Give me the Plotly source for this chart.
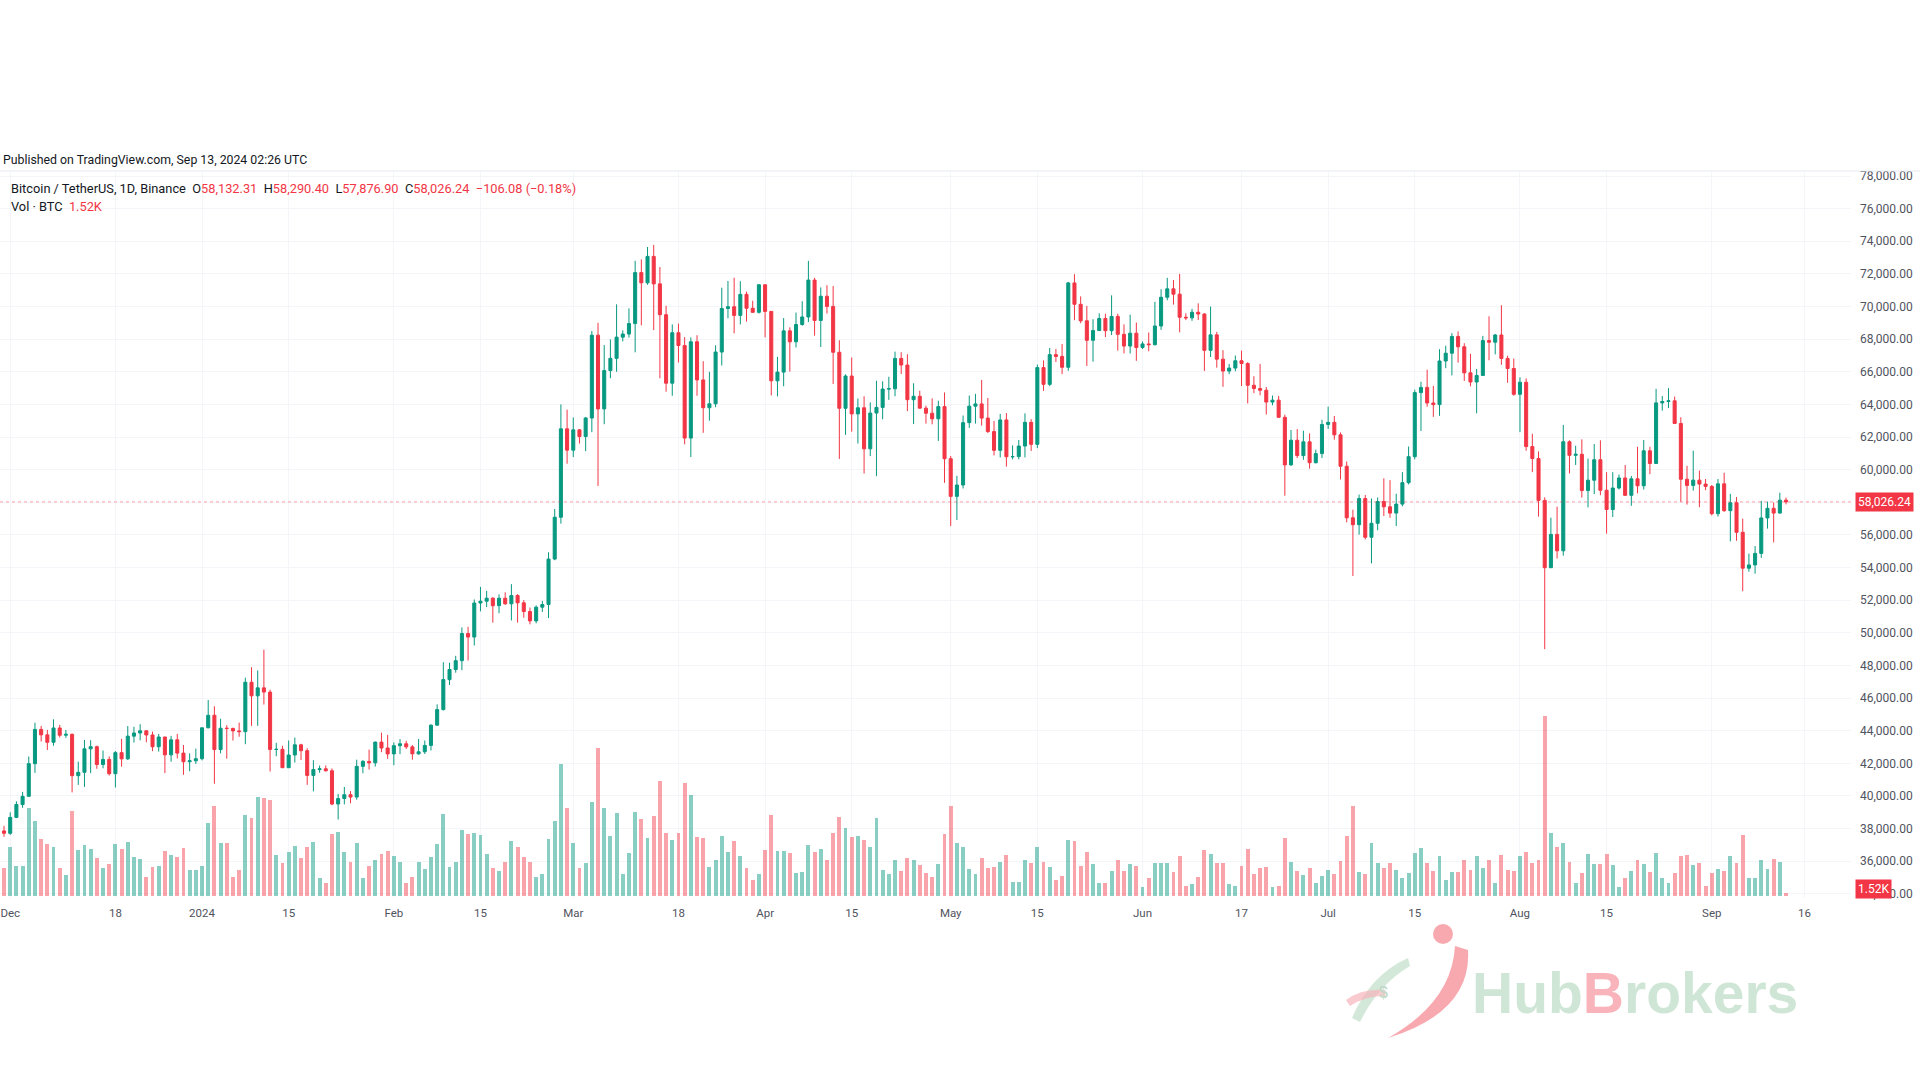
import plotly.graph_objects as go
import pandas as pd

# ---------------- data (BTCUSDT, Binance, 1D) ----------------
dates = pd.date_range("2023-11-30", "2024-09-13", freq="D")

opens = [
    37861,
    # Dec
    37712, 38688, 39476, 39978, 41980, 44080, 43746, 43292, 44166, 43725, 43779, 41243, 41450, 42890, 43023, 41929,
    42240, 41365, 42657, 42275, 43668, 43861, 43997, 43740, 43017, 43614, 42520, 43442, 42627, 42099, 42156,
    # Jan
    42283, 44179, 44946, 42845, 44151, 44140, 43989, 43943, 46970, 46139, 46627, 46368, 42853, 42860, 41733, 42511,
    43137, 42776, 41262, 41618, 41665, 41545, 39507, 39845, 40077, 39933, 41816, 42120, 42031, 43302, 42941,
    # Feb
    42580, 43082, 43200, 43011, 42582, 42708, 43099, 44339, 45293, 47132, 47751, 48293, 49958, 49742, 51826, 51939,
    52123, 51662, 52122, 51779, 52284, 51839, 51304, 50731, 51572, 51733, 54522, 57085, 62504,
    # Mar
    61198, 62440, 62029, 63168, 68245, 63724, 66074, 66823, 68124, 68313, 68955, 72078, 71452, 73072, 71388, 69499,
    65300, 68393, 67609, 61937, 67840, 65501, 63796, 64037, 67211, 69880, 69988, 69455, 70745, 69893, 69645,
    # Apr
    71333, 69702, 65446, 65980, 68508, 67837, 68896, 69361, 71620, 69146, 70631, 70006, 67195, 63765, 65739, 63419,
    63793, 61277, 63470, 63818, 64941, 64960, 66819, 66414, 64289, 64498, 63770, 63461, 63118, 63866,
    # May
    60672, 58364, 59060, 62882, 63892, 64031, 63161, 62334, 61187, 63049, 60792, 60800, 61448, 62901, 61552, 66256,
    65231, 67051, 66940, 66278, 71446, 70136, 69122, 67929, 68526, 69265, 68518, 69394, 68296, 67578, 68364,
    # Jun
    67491, 67706, 67660, 68804, 70567, 71082, 70757, 69342, 69305, 69648, 69540, 67314, 68263, 66773, 66043, 66228,
    66676, 66504, 65175, 64974, 64869, 64143, 64262, 63210, 60293, 61806, 60864, 61706, 60427, 60986,
    # Jul
    62772, 62900, 62135, 60209, 57050, 56628, 58231, 55857, 56714, 58050, 57725, 57339, 57889, 59204, 60797, 64724,
    65043, 64087, 63987, 66660, 67139, 68165, 67532, 65936, 65372, 65777, 67912, 67813, 68255, 66819, 66201,
    # Aug
    64619, 65357, 61415, 60681, 58116, 53991, 56034, 55027, 61710, 60880, 60945, 58719, 59354, 60609, 58737, 57560,
    58874, 59491, 58427, 59438, 59013, 61157, 60381, 64094, 64178, 64220, 62834, 59415, 59034, 59359, 59119,
    # Sep
    58974, 57302, 59132, 57487, 57970, 56160, 53962, 54160, 54869, 57042, 57631, 57339, 58132.31,
]

highs = [
    38168,
    38999, 39676, 40250, 42420, 44488, 44295, 44049, 44700, 44358, 44046, 43827, 42104, 43429, 43420, 43085, 42787,
    42425, 42756, 43497, 44283, 44242, 44398, 43999, 43946, 43802, 43630, 43684, 43805, 43125, 42612, 42899,
    44184, 45879, 45500, 44729, 44340, 44187, 44495, 47248, 47893, 47695, 48969, 46515, 43257, 43080, 43400, 43578,
    43198, 42930, 42196, 41865, 41870, 41689, 40128, 40555, 40300, 42225, 42200, 42842, 43333, 43882, 43745,
    43285, 43488, 43380, 43119, 43494, 43399, 44396, 45614, 48200, 48170, 48592, 50334, 50368, 52043, 52816, 52575,
    52191, 52357, 52485, 52985, 52372, 52009, 51549, 51684, 51958, 54938, 57588, 64000, 63677,
    63200, 62487, 63230, 68500, 69000, 67637, 67985, 70136, 68541, 69887, 72800, 72890, 73650, 73777, 72419, 70044,
    68904, 68956, 68124, 68100, 68240, 66650, 65999, 67622, 71150, 71561, 71769, 71552, 70913, 70355, 71366,
    71342, 69708, 66914, 69291, 68725, 69629, 70326, 72797, 71758, 71172, 71305, 71256, 67931, 65840, 66878, 64365,
    64499, 64125, 65450, 65419, 65695, 67233, 67199, 67075, 65297, 64837, 63923, 64370, 64228, 64734,
    60841, 59625, 63320, 64545, 64646, 65500, 64390, 62986, 63421, 63469, 61490, 61818, 63450, 63099, 66444, 66700,
    67459, 67400, 67700, 71515, 71979, 70623, 70041, 69220, 69579, 69562, 70687, 69560, 68905, 69500, 69019,
    67859, 68409, 70288, 71063, 71758, 71625, 71997, 69582, 69860, 70195, 69590, 69999, 68449, 67324, 66478, 66998,
    67298, 66588, 65727, 66482, 65066, 64546, 64521, 63369, 62435, 62487, 62389, 62225, 61224, 63058,
    63862, 63289, 62285, 60499, 57546, 58475, 58449, 58236, 58296, 59470, 59359, 58526, 59850, 61420, 64900, 65388,
    66128, 65133, 67386, 67598, 68366, 68474, 67750, 67102, 66175, 68200, 69399, 68318, 70079, 66987, 66810,
    65659, 65596, 62198, 61117, 58305, 57058, 57736, 62745, 61800, 61464, 61858, 60680, 61572, 61800, 59850, 59847,
    59700, 60284, 59617, 61400, 61820, 61400, 64955, 64513, 65000, 64481, 63212, 60236, 61166, 59944, 59429,
    59062, 59425, 59809, 58519, 58327, 56995, 54850, 55318, 58088, 58044, 57991, 58588, 58290.40,
]

lows = [
    37500,
    37615, 38650, 39274, 39978, 41414, 43335, 42821, 43081, 43584, 43564, 40222, 40680, 40555, 41400, 41666, 41697,
    41250, 40520, 41795, 42206, 43273, 43412, 43293, 42746, 42720, 41403, 42100, 42300, 41300, 41520, 41965,
    42181, 44149, 40750, 42613, 42284, 43400, 43630, 43175, 44300, 44300, 45606, 41500, 42436, 41720, 41719, 42050,
    42200, 40683, 40280, 41424, 41500, 39431, 38555, 39484, 39550, 39773, 41395, 41620, 41804, 42683, 42276,
    41884, 42565, 42880, 42222, 42536, 42574, 42788, 44331, 45242, 46800, 47557, 47710, 48300, 49225, 51314, 51578,
    50625, 51200, 51715, 50760, 50625, 50926, 50521, 50585, 51279, 50901, 54450, 56690, 60364,
    60777, 61600, 61136, 62300, 59005, 62787, 65602, 66000, 67861, 68094, 67194, 68845, 71334, 68555, 65600, 64780,
    64533, 66565, 61555, 60775, 64529, 62260, 63000, 63825, 66385, 69280, 68359, 68903, 69076, 69601, 69562,
    68110, 64550, 64493, 65113, 66011, 67491, 68824, 69043, 68210, 67518, 69567, 65254, 60660, 62134, 62332, 61600,
    59768, 60833, 59600, 63090, 64278, 64500, 65864, 63589, 62794, 63747, 62824, 62781, 61765, 59191,
    56552, 56911, 58848, 62560, 62822, 62700, 62250, 60877, 60750, 60187, 60631, 60632, 60750, 61148, 61320, 64832,
    65119, 66600, 65857, 66060, 69162, 68977, 66356, 66622, 68515, 68128, 68250, 67300, 67125, 67118, 66670,
    67397, 67257, 67612, 68567, 70383, 70119, 68420, 69168, 69124, 69172, 66051, 66905, 66251, 65078, 65858, 66034,
    65130, 64060, 64693, 64560, 63379, 63943, 63178, 58402, 60239, 60712, 60606, 60063, 60383, 60712,
    62497, 61838, 59400, 56771, 53485, 56018, 55724, 54260, 56289, 57157, 57052, 56542, 57756, 59096, 60632, 62373,
    63855, 63238, 63300, 66222, 65777, 66559, 65441, 65111, 63456, 65757, 66705, 67066, 66428, 65323, 64532,
    62302, 61160, 59850, 57122, 49000, 53973, 54558, 54730, 59767, 60287, 58286, 57688, 58506, 58433, 56078, 57098,
    58785, 58408, 57787, 58548, 58783, 59724, 60345, 63619, 63773, 62800, 58034, 57860, 58713, 57701, 58740,
    57201, 57128, 57415, 55606, 55643, 52550, 53745, 53629, 54591, 56386, 55545, 57311, 57876.90,
]

closes = [
    37712,
    38688, 39476, 39978, 41980, 44080, 43746, 43292, 44166, 43725, 43779, 41243, 41450, 42890, 43023, 41929, 42240,
    41365, 42657, 42275, 43668, 43861, 43997, 43740, 43017, 43614, 42520, 43442, 42627, 42099, 42156, 42283,
    44179, 44946, 42845, 44151, 44140, 43989, 43943, 46970, 46139, 46627, 46368, 42853, 42860, 41733, 42511, 43137,
    42776, 41262, 41618, 41665, 41545, 39507, 39845, 40077, 39933, 41816, 42120, 42031, 43302, 42941, 42580,
    43082, 43200, 43011, 42582, 42708, 43099, 44339, 45293, 47132, 47751, 48293, 49958, 49742, 51826, 51939, 52123,
    51662, 52122, 51779, 52284, 51839, 51304, 50731, 51572, 51733, 54522, 57085, 62504, 61198,
    62440, 62029, 63168, 68245, 63724, 66074, 66823, 68124, 68313, 68955, 72078, 71452, 73072, 71388, 69499, 65300,
    68393, 67609, 61937, 67840, 65501, 63796, 64037, 67211, 69880, 69988, 69455, 70745, 69893, 69645, 71333,
    69702, 65446, 65980, 68508, 67837, 68896, 69361, 71620, 69146, 70631, 70006, 67195, 63765, 65739, 63419, 63793,
    61277, 63470, 63818, 64941, 64960, 66819, 66414, 64289, 64498, 63770, 63461, 63118, 63866, 60672,
    58364, 59060, 62882, 63892, 64031, 63161, 62334, 61187, 63049, 60792, 60800, 61448, 62901, 61552, 66256, 65231,
    67051, 66940, 66278, 71446, 70136, 69122, 67929, 68526, 69265, 68518, 69394, 68296, 67578, 68364, 67491,
    67706, 67660, 68804, 70567, 71082, 70757, 69342, 69305, 69648, 69540, 67314, 68263, 66773, 66043, 66228, 66676,
    66504, 65175, 64974, 64869, 64143, 64262, 63210, 60293, 61806, 60864, 61706, 60427, 60986, 62772,
    62900, 62135, 60209, 57050, 56628, 58231, 55857, 56714, 58050, 57725, 57339, 57889, 59204, 60797, 64724, 65043,
    64087, 63987, 66660, 67139, 68165, 67532, 65936, 65372, 65777, 67912, 67813, 68255, 66819, 66201, 64619,
    65357, 61415, 60681, 58116, 53991, 56034, 55027, 61710, 60880, 60945, 58719, 59354, 60609, 58737, 57560, 58874,
    59491, 58427, 59438, 59013, 61157, 60381, 64094, 64178, 64220, 62834, 59415, 59034, 59359, 59119, 58974,
    57302, 59132, 57487, 57970, 56160, 53962, 54160, 54869, 57042, 57631, 57339, 58132.31, 58026.24,
]

# volume in thousands of BTC
volumes_k = [
    16.6,
    29.2, 18.2, 18.2, 53.0, 45.2, 34.2, 31.2, 29.2, 17.0, 12.6, 51.2, 27.6, 30.6, 28.0, 22.8, 16.6,
    19.2, 31.2, 28.0, 32.6, 23.2, 22.0, 11.2, 17.2, 18.2, 27.2, 24.6, 23.6, 29.0, 15.6, 15.6,
    18.2, 43.6, 54.2, 31.6, 31.6, 11.6, 15.6, 48.6, 46.6, 59.6, 58.6, 57.6, 24.6, 19.6, 26.6, 30.0,
    22.6, 29.6, 32.2, 11.0, 8.0, 37.0, 38.6, 26.6, 20.6, 31.6, 10.6, 18.2, 21.6, 25.2, 27.0,
    24.0, 20.2, 8.0, 11.6, 20.2, 16.0, 23.2, 31.0, 49.2, 17.6, 20.2, 39.6, 37.0, 38.0, 36.6, 25.2,
    16.6, 15.2, 20.2, 33.2, 29.6, 23.6, 20.6, 11.6, 13.2, 34.0, 45.2, 79.2, 52.6,
    31.6, 17.0, 19.6, 56.6, 88.6, 52.6, 36.0, 49.6, 13.2, 25.6, 50.6, 46.0, 35.0, 48.2, 69.2, 37.6,
    33.6, 37.6, 67.6, 60.6, 35.6, 34.6, 17.6, 21.6, 36.0, 26.6, 33.2, 24.0, 16.6, 9.6, 13.2,
    27.6, 48.6, 27.0, 27.0, 25.6, 14.0, 14.6, 30.6, 26.6, 28.0, 21.6, 37.6, 47.6, 41.0, 35.6, 36.0,
    33.6, 29.6, 46.6, 15.6, 13.2, 21.6, 15.0, 22.6, 21.6, 18.6, 13.6, 11.6, 19.2, 37.0,
    54.0, 31.6, 29.6, 16.2, 13.2, 23.0, 17.0, 17.6, 20.6, 24.6, 8.6, 8.6, 21.6, 20.0, 29.6, 20.6,
    17.6, 9.6, 12.0, 33.6, 33.2, 18.2, 26.6, 19.2, 8.0, 8.0, 15.2, 21.6, 15.2, 19.2, 18.2,
    5.6, 10.6, 20.0, 20.0, 20.0, 14.2, 24.0, 6.2, 7.0, 11.6, 27.6, 25.0, 19.6, 19.6, 7.0, 6.0,
    18.0, 28.0, 13.2, 16.6, 17.2, 5.2, 6.0, 34.6, 20.2, 15.0, 12.6, 16.6, 7.6, 12.0,
    15.6, 13.0, 21.2, 36.0, 54.0, 14.2, 13.2, 31.6, 19.6, 16.6, 19.6, 15.4, 10.6, 14.0, 26.0, 28.6,
    20.0, 15.0, 24.0, 9.6, 14.6, 14.6, 21.6, 15.6, 24.0, 16.6, 21.6, 7.6, 24.6, 15.6, 15.2,
    24.0, 26.2, 19.6, 21.6, 108.0, 37.6, 29.6, 32.0, 20.6, 7.6, 13.6, 25.2, 19.2, 19.0, 25.2, 18.6,
    5.2, 10.6, 15.2, 21.6, 19.2, 14.6, 26.0, 10.6, 8.0, 13.6, 24.2, 24.6, 18.6, 20.0, 6.0,
    14.0, 16.0, 15.2, 24.0, 19.6, 36.6, 10.6, 10.6, 21.6, 16.0, 22.2, 20.6, 1.52,
]

x_tick_dates = ["2023-12-01", "2023-12-18", "2024-01-01", "2024-01-15", "2024-02-01", "2024-02-15",
                "2024-03-01", "2024-03-18", "2024-04-01", "2024-04-15", "2024-05-01", "2024-05-15",
                "2024-06-01", "2024-06-17", "2024-07-01", "2024-07-15", "2024-08-01", "2024-08-15",
                "2024-09-01", "2024-09-16"]
x_tick_labels = ["Dec", "18", "2024", "15", "Feb", "15", "Mar", "18", "Apr", "15", "May", "15",
                 "Jun", "17", "Jul", "15", "Aug", "15", "Sep", "16"]
price_ticks = list(range(34000, 78001, 2000))

last_close = 58026.24
last_vol_label = "1.52K"

n = len(dates)
for arr in (opens, highs, lows, closes, volumes_k):
    if len(arr) != n:
        raise ValueError(f"length mismatch {len(arr)} vs {n}")

# ---------------- style ----------------
UP = "#089981"
DOWN = "#F23645"
UP_VOL = "rgba(8,153,129,0.48)"
DOWN_VOL = "rgba(242,54,69,0.45)"
GRID = "#f4f5f8"
TXT = "#131722"
AX = "#50535e"
FONT = "Roboto"

PLOT_W = 1851.0
PLOT_TOP, PLOT_BOT = 172.0, 898.0
PLOT_H = PLOT_BOT - PLOT_TOP


def px(X):
    return X / PLOT_W


def py(Y):
    return (PLOT_BOT - Y) / PLOT_H


vol_colors = [UP_VOL if c >= o else DOWN_VOL for o, c in zip(opens, closes)]

fig = go.Figure()

fig.add_trace(go.Bar(
    x=dates, y=volumes_k, marker=dict(color=vol_colors, line=dict(width=0)),
    width=0.62 * 86400000, yaxis="y", hoverinfo="skip",
))

fig.add_trace(go.Candlestick(
    x=dates, open=opens, high=highs, low=lows, close=closes, yaxis="y2",
    increasing=dict(line=dict(color=UP, width=1), fillcolor=UP),
    decreasing=dict(line=dict(color=DOWN, width=1), fillcolor=DOWN),
    whiskerwidth=0,
))

fig.update_layout(
    width=1920, height=1080,
    margin=dict(l=0, r=int(1920 - PLOT_W), t=int(PLOT_TOP), b=int(1080 - PLOT_BOT)),
    paper_bgcolor="white", plot_bgcolor="white",
    showlegend=False,
    font=dict(family=FONT, size=11, color=TXT),
    xaxis=dict(
        type="date",
        range=["2023-11-29 08:24", "2024-09-23 12:00"],
        tickvals=x_tick_dates, ticktext=x_tick_labels,
        tickfont=dict(family=FONT, size=11.5, color=AX),
        showgrid=True, gridcolor=GRID, gridwidth=1,
        zeroline=False, showline=False, ticks="",
        ticklabelstandoff=6,
        rangeslider=dict(visible=False),
        fixedrange=True,
    ),
    yaxis=dict(
        range=[-1.2, 434.4], visible=False, showgrid=False, fixedrange=True,
    ),
    yaxis2=dict(
        overlaying="y", side="right",
        range=[33747, 78245],
        tickvals=price_ticks, tickformat=",.2f",
        tickfont=dict(family=FONT, size=12, color=AX),
        showgrid=True, gridcolor=GRID, gridwidth=1,
        zeroline=False, showline=False, ticks="",
        ticklabelstandoff=8,
        fixedrange=True,
    ),
    bargap=0,
)

shapes = []
# top border of chart pane
shapes.append(dict(type="line", xref="paper", yref="paper", x0=0, x1=px(1920), y0=py(171), y1=py(171),
                   line=dict(color="#e6e8ee", width=1), layer="above"))
# last price dotted line
shapes.append(dict(type="line", xref="paper", yref="y2", x0=0, x1=1, y0=last_close, y1=last_close,
                   line=dict(color="rgba(242,54,69,0.45)", width=1, dash="dot"), layer="above"))


# watermark logo (pink swoosh + head, pale green leaves)
def path_from(points):
    s = "M {:.5f},{:.5f}".format(px(points[0][0]), py(points[0][1]))
    for p in points[1:]:
        if len(p) == 4:
            s += " Q {:.5f},{:.5f} {:.5f},{:.5f}".format(px(p[0]), py(p[1]), px(p[2]), py(p[3]))
        else:
            s += " L {:.5f},{:.5f}".format(px(p[0]), py(p[1]))
    return s + " Z"


swoosh = [(1388, 1038), (1472, 1012, 1468, 950), (1455, 946), (1452, 1002, 1388, 1038)]
shapes.append(dict(type="path", xref="paper", yref="paper", path=path_from(swoosh),
                   fillcolor="rgba(245,140,150,0.75)", line=dict(width=0), layer="above"))
shapes.append(dict(type="circle", xref="paper", yref="paper",
                   x0=px(1433), x1=px(1453), y0=py(944), y1=py(924),
                   fillcolor="rgba(245,140,150,0.75)", line=dict(width=0), layer="above"))
leaf1 = [(1352, 1018), (1370, 975, 1408, 958), (1410, 966), (1378, 985, 1360, 1022)]
leaf2 = [(1346, 1000), (1362, 988, 1385, 990), (1385, 996), (1365, 996, 1350, 1006)]
shapes.append(dict(type="path", xref="paper", yref="paper", path=path_from(leaf1),
                   fillcolor="rgba(200,226,208,0.8)", line=dict(width=0), layer="above"))
shapes.append(dict(type="path", xref="paper", yref="paper", path=path_from(leaf2),
                   fillcolor="rgba(247,180,186,0.7)", line=dict(width=0), layer="above"))
fig.update_layout(shapes=shapes)

dn_c = DOWN
legend1 = (
    "Bitcoin / TetherUS, 1D, Binance&nbsp;&nbsp;"
    f"O<span style='color:{dn_c}'>58,132.31</span>&nbsp;&nbsp;"
    f"H<span style='color:{dn_c}'>58,290.40</span>&nbsp;&nbsp;"
    f"L<span style='color:{dn_c}'>57,876.90</span>&nbsp;&nbsp;"
    f"C<span style='color:{dn_c}'>58,026.24</span>&nbsp;&nbsp;"
    f"<span style='color:{dn_c}'>\u2212106.08 (\u22120.18%)</span>"
)
legend2 = f"Vol \u00b7 BTC&nbsp;&nbsp;<span style='color:{dn_c}'>1.52K</span>"

annotations = [
    dict(text="Published on TradingView.com, Sep 13, 2024 02:26 UTC", xref="paper", yref="paper",
         x=px(1), y=py(160), xanchor="left", yanchor="middle", showarrow=False,
         font=dict(family=FONT, size=12.3, color=TXT)),
    dict(text=legend1, xref="paper", yref="paper", x=px(9), y=py(188), xanchor="left", yanchor="middle",
         showarrow=False, font=dict(family=FONT, size=12.8, color=TXT)),
    dict(text=legend2, xref="paper", yref="paper", x=px(9), y=py(206), xanchor="left", yanchor="middle",
         showarrow=False, font=dict(family=FONT, size=12.8, color=TXT)),
    # last price label
    dict(text=f"{last_close:,.2f}", xref="paper", yref="y2", x=px(1855), y=last_close,
         xanchor="left", yanchor="middle", showarrow=False, bgcolor=DOWN, borderpad=2,
         font=dict(family=FONT, size=12, color="white")),
    # last volume label
    dict(text=last_vol_label, xref="paper", yref="paper", x=px(1855), y=py(889),
         xanchor="left", yanchor="middle", showarrow=False, bgcolor=DOWN, borderpad=2,
         font=dict(family=FONT, size=12, color="white")),
    # watermark text
    dict(text="<b><span style='color:#cfe6d6'>Hub</span><span style='color:#f8b4ba'>B</span>"
              "<span style='color:#cfe6d6'>rokers</span></b>",
         xref="paper", yref="paper", x=px(1470), y=py(993), xanchor="left", yanchor="middle",
         showarrow=False, font=dict(family="Liberation Sans", size=57, color="#cfe6d6")),
    dict(text="<b>$</b>", xref="paper", yref="paper", x=px(1383), y=py(992), xanchor="center",
         yanchor="middle", showarrow=False, font=dict(family="Liberation Sans", size=16,
                                                      color="rgba(190,215,198,0.9)")),
]
fig.update_layout(annotations=annotations)

fig.write_html("out.html")
